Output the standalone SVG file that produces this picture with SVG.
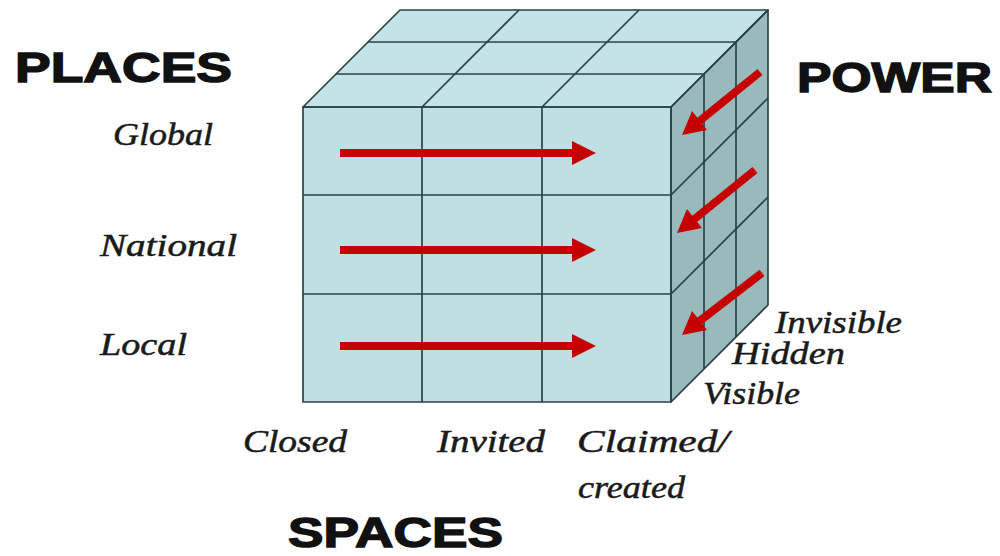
<svg xmlns="http://www.w3.org/2000/svg" width="1000" height="556" viewBox="0 0 1000 556">
  <defs>
    <style>
      .front { fill: #bfe0e3; }
      .top { fill: #c4e3e6; }
      .side { fill: #99babc; }
      .edge { fill: none; stroke: #2a4246; stroke-width: 1.7; stroke-linejoin: round; }
      .arrow { stroke: #c40000; stroke-width: 8; fill: none; }
      .head { fill: #c40000; }
      .title { font-family: "Liberation Sans", Arial, sans-serif; font-weight: bold; font-size: 42px; fill: #111; stroke: #111; stroke-width: 1.4; }
      .label { font-family: "Liberation Serif", "Times New Roman", serif; font-style: italic; font-size: 31px; fill: #1a1a1a; stroke: #1a1a1a; stroke-width: 0.5; }
    </style>
  </defs>

  <rect width="1000" height="556" fill="#ffffff"/>

  <!-- cube body -->
  <g id="cube">
    <polygon class="top" points="303,107 400,10 768,10 671,107"/>
    <polygon class="side" points="671,107 768,10 768,305 671,402"/>
    <rect class="front" x="303" y="107" width="368" height="295"/>

    <!-- top face grid -->
    <g class="edge">
      <polygon points="303,107 400,10 768,10 671,107"/>
      <line x1="336" y1="74" x2="704" y2="74"/>
      <line x1="368" y1="42" x2="736" y2="42"/>
      <line x1="422" y1="107" x2="519" y2="10"/>
      <line x1="542" y1="107" x2="639" y2="10"/>
    </g>

    <!-- side face grid -->
    <g class="edge">
      <polygon points="671,107 768,10 768,305 671,402"/>
      <line x1="704" y1="74" x2="704" y2="369"/>
      <line x1="736" y1="42" x2="736" y2="337"/>
      <line x1="671" y1="195" x2="768" y2="98"/>
      <line x1="671" y1="294" x2="768" y2="197"/>
    </g>

    <!-- front face grid -->
    <g class="edge">
      <rect x="303" y="107" width="368" height="295"/>
      <line x1="422" y1="107" x2="422" y2="402"/>
      <line x1="542" y1="107" x2="542" y2="402"/>
      <line x1="303" y1="195" x2="671" y2="195"/>
      <line x1="303" y1="294" x2="671" y2="294"/>
    </g>
  </g>

  <!-- red arrows -->
  <g id="connectors">
    <line class="arrow" x1="340" y1="153" x2="575" y2="153"/>
    <polygon class="head" points="572,141 596,153 572,165"/>
    <line class="arrow" x1="340" y1="250" x2="575" y2="250"/>
    <polygon class="head" points="572,238 596,250 572,262"/>
    <line class="arrow" x1="340" y1="346" x2="575" y2="346"/>
    <polygon class="head" points="572,334 596,346 572,358"/>

    <line class="arrow" x1="760" y1="72" x2="697" y2="123"/>
    <polygon class="head" points="682,135 692,111 707,130"/>
    <line class="arrow" x1="755" y1="170" x2="692" y2="221"/>
    <polygon class="head" points="677,233 687,209 702,228"/>
    <line class="arrow" x1="762" y1="273" x2="697" y2="323"/>
    <polygon class="head" points="682,335 692,311 707,330"/>
  </g>

  <!-- axis titles -->
  <g id="places">
    <text class="title" x="15" y="82" textLength="217" lengthAdjust="spacingAndGlyphs">PLACES</text>
    <text class="label" x="113" y="145" textLength="100" lengthAdjust="spacingAndGlyphs">Global</text>
    <text class="label" x="100" y="256" textLength="137" lengthAdjust="spacingAndGlyphs">National</text>
    <text class="label" x="100" y="355" textLength="87" lengthAdjust="spacingAndGlyphs">Local</text>
  </g>

  <g id="power">
    <text class="title" x="797" y="92" textLength="195" lengthAdjust="spacingAndGlyphs">POWER</text>
    <text class="label" x="775" y="333" textLength="127" lengthAdjust="spacingAndGlyphs">Invisible</text>
    <text class="label" x="732" y="364" textLength="113" lengthAdjust="spacingAndGlyphs">Hidden</text>
    <text class="label" x="703" y="404" textLength="97" lengthAdjust="spacingAndGlyphs">Visible</text>
  </g>

  <g id="spaces">
    <text class="title" x="288" y="547" textLength="215" lengthAdjust="spacingAndGlyphs">SPACES</text>
    <text class="label" x="243" y="452" textLength="104" lengthAdjust="spacingAndGlyphs">Closed</text>
    <text class="label" x="437" y="452" textLength="108" lengthAdjust="spacingAndGlyphs">Invited</text>
    <text class="label" x="577" y="452" textLength="152" lengthAdjust="spacingAndGlyphs">Claimed/</text>
    <text class="label" x="578" y="498" textLength="107" lengthAdjust="spacingAndGlyphs">created</text>
  </g>
</svg>
